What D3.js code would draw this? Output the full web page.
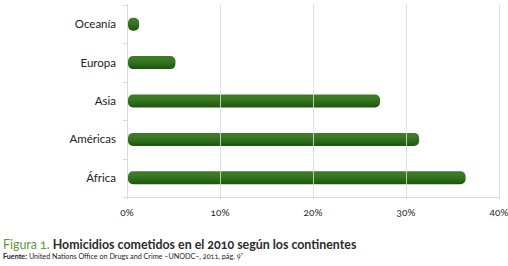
<!DOCTYPE html>
<html><head><meta charset="utf-8">
<script src="https://cdn.jsdelivr.net/npm/d3@7"></script>
<style>
body{margin:0;background:#fff;}
svg{display:block;font-family:Lato,"Open Sans",sans-serif;}
.num{font-variant-numeric:oldstyle-nums;font-feature-settings:"onum" 1;}
</style></head>
<body><svg id="c" width="508" height="266"></svg>
<script>
const categories = ["Oceanía","Europa","Asia","Américas","África"];
const values = [1.2, 5.1, 27.1, 31.3, 36.3];
const xTicks = [0,10,20,30,40];
const tickLabels = ["0%","10%","20%","30%","40%"];

const svg = d3.select("#c");
const x = d3.scaleLinear().domain([0,40]).range([127,499]);
const y = d3.scaleBand().domain(categories).range([5,197]);

const defs = svg.append("defs");
const g = defs.append("linearGradient").attr("id","bg").attr("x1",0).attr("y1",0).attr("x2",0).attr("y2",1);
g.append("stop").attr("offset","0%").attr("stop-color","#3d7d26");
g.append("stop").attr("offset","30%").attr("stop-color","#3b7a24");
g.append("stop").attr("offset","65%").attr("stop-color","#2c6a18");
g.append("stop").attr("offset","100%").attr("stop-color","#1d5210");

// left axis
svg.append("line").attr("x1",x(0)+0.5).attr("x2",x(0)+0.5).attr("y1",4).attr("y2",199)
  .attr("stroke","#d9d9d9");
// bottom axis
svg.append("line").attr("x1",x(0)).attr("x2",x(40)+1).attr("y1",197.5).attr("y2",197.5)
  .attr("stroke","#d9d9d9");
// category ticks
const bounds = y.domain().map(d=>y(d)).concat([y.range()[1]]);
svg.append("g").selectAll("line").data(bounds).join("line")
  .attr("x1",x(0)-4).attr("x2",x(0))
  .attr("y1",d=>Math.round(d)+0.5).attr("y2",d=>Math.round(d)+0.5)
  .attr("stroke","#d9d9d9");

// bars
const bh = 13;
svg.append("g").selectAll("rect").data(categories).join("rect")
  .attr("x",x(0)+1)
  .attr("y",(d)=>y(d)+y.bandwidth()/2-bh/2)
  .attr("width",(d,i)=>x(values[i])-x(0))
  .attr("height",bh)
  .attr("rx",5).attr("ry",5)
  .attr("fill","url(#bg)");

// gridlines (drawn over the bars, as in the reference)
svg.append("g").selectAll("line").data(xTicks.slice(1)).join("line")
  .attr("x1",d=>x(d)+0.5).attr("x2",d=>x(d)+0.5)
  .attr("y1",4).attr("y2",199)
  .attr("stroke","#d9d9d9").attr("stroke-opacity",0.85).attr("stroke-width",1);

// category labels
svg.append("g").selectAll("text").data(categories).join("text")
  .attr("x",116).attr("y",d=>y(d)+y.bandwidth()/2)
  .attr("dy","0.35em").attr("text-anchor","end")
  .attr("font-size",11.5).attr("fill","#222").text(d=>d);

// x tick labels
svg.append("g").selectAll("text").data(xTicks).join("text")
  .attr("class","num")
  .attr("x",d=>x(d)).attr("y",216)
  .attr("text-anchor","middle").attr("font-size",10).attr("fill","#222")
  .text((d,i)=>tickLabels[i]);

// title
const t = svg.append("text").attr("x",3).attr("y",249).attr("font-size",12.4).attr("class","num");
t.append("tspan").attr("fill","#5a9b35").text("Figura 1.");
t.append("tspan").attr("fill","#2b2b2b").attr("font-weight","bold").text(" Homicidios cometidos en el 2010 según los continentes");
const s = svg.append("text").attr("x",3).attr("y",259).attr("font-size",7.2).attr("fill","#222").attr("class","num");
s.append("tspan").attr("font-weight","bold").text("Fuente:");
s.append("tspan").text(" United Nations Office on Drugs and Crime –UNODC–, 2011, pág. 9");
s.append("tspan").attr("font-size",4.5).attr("dy",-3).text("7");
</script></body></html>
